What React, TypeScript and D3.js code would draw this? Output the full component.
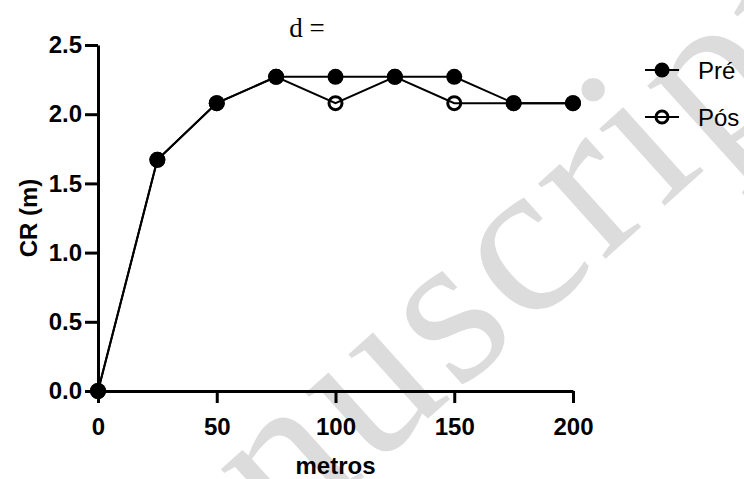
import { useEffect, useRef } from 'react'
import * as d3 from 'd3'

// distance in metres
const metros = [0, 25, 50, 75, 100, 125, 150, 175, 200]
const pre = [0, 1.67, 2.08, 2.27, 2.27, 2.27, 2.27, 2.08, 2.08]
const pos = [0, 1.67, 2.08, 2.27, 2.08, 2.27, 2.08, 2.08, 2.08]
const xTicks = [0, 50, 100, 150, 200]
const yTicks = [0, 0.5, 1.0, 1.5, 2.0, 2.5]
const seriesNames = ['Pré', 'Pós']

export default function App() {
  const svgRef = useRef<SVGSVGElement>(null)

  useEffect(() => {
    if (!svgRef.current) return
    const width = 744
    const height = 479

    const svg = d3.select(svgRef.current)
    svg.selectAll('*').remove()
    svg.attr('width', width).attr('height', height)

    const sans = '"Liberation Sans", Arial, sans-serif'
    const serif = '"Liberation Serif", "Times New Roman", serif'

    // marca d'água
    svg.append('text')
      .attr('transform', 'translate(58,752) rotate(-42)')
      .attr('font-family', serif)
      .attr('font-size', 220)
      .attr('letter-spacing', 6)
      .attr('fill', '#dcdcdc')
      .text('Manuscript')

    const x = d3.scaleLinear().domain([0, 200]).range([98, 573])
    const y = d3.scaleLinear().domain([0, 2.5]).range([391, 45])

    // eixo X
    const gx = svg.append('g')
      .attr('transform', `translate(0,${y(0)})`)
      .call(d3.axisBottom(x).tickValues(xTicks).tickSize(12).tickSizeOuter(0).tickPadding(15).tickFormat(d3.format('d')))
    gx.select('.domain').attr('stroke', '#000').attr('stroke-width', 3)
    gx.selectAll('.tick line').attr('stroke', '#000').attr('stroke-width', 3)
    gx.selectAll('.tick text')
      .attr('fill', '#000')
      .attr('font-family', sans)
      .attr('font-weight', 'bold')
      .attr('font-size', 24)

    // eixo Y
    const gy = svg.append('g')
      .attr('transform', `translate(${x(0)},0)`)
      .call(d3.axisLeft(y).tickValues(yTicks).tickSize(13).tickSizeOuter(0).tickPadding(3).tickFormat(d3.format('.1f')))
    gy.select('.domain').attr('stroke', '#000').attr('stroke-width', 3)
    gy.selectAll('.tick line').attr('stroke', '#000').attr('stroke-width', 3)
    gy.selectAll('.tick text')
      .attr('fill', '#000')
      .attr('font-family', sans)
      .attr('font-weight', 'bold')
      .attr('font-size', 24)

    svg.append('text')
      .attr('x', (x(0) + x(200)) / 2)
      .attr('y', 474)
      .attr('text-anchor', 'middle')
      .attr('font-family', sans)
      .attr('font-weight', 'bold')
      .attr('font-size', 24)
      .text('metros')

    svg.append('text')
      .attr('transform', `translate(37,${(y(0) + y(2.5)) / 2}) rotate(-90)`)
      .attr('text-anchor', 'middle')
      .attr('font-family', sans)
      .attr('font-weight', 'bold')
      .attr('font-size', 24)
      .text('CR (m)')

    svg.append('text')
      .attr('x', 307)
      .attr('y', 37)
      .attr('text-anchor', 'middle')
      .attr('font-family', serif)
      .attr('font-size', 27)
      .text('d =')

    const line = d3.line<[number, number]>()
      .x(d => x(d[0]))
      .y(d => y(d[1]))

    const posData = metros.map((m, i) => [m, pos[i]] as [number, number])
    const preData = metros.map((m, i) => [m, pre[i]] as [number, number])

    svg.append('path').attr('d', line(posData)).attr('fill', 'none').attr('stroke', '#000').attr('stroke-width', 2)
    svg.append('path').attr('d', line(preData)).attr('fill', 'none').attr('stroke', '#000').attr('stroke-width', 2)

    // Pós (círculo aberto)
    svg.selectAll('circle.pos')
      .data(posData)
      .enter()
      .append('circle')
      .attr('class', 'pos')
      .attr('cx', d => x(d[0]))
      .attr('cy', d => y(d[1]))
      .attr('r', 6.5)
      .attr('fill', 'none')
      .attr('stroke', '#000')
      .attr('stroke-width', 3)

    // Pré (círculo cheio)
    svg.selectAll('circle.pre')
      .data(preData)
      .enter()
      .append('circle')
      .attr('class', 'pre')
      .attr('cx', d => x(d[0]))
      .attr('cy', d => y(d[1]))
      .attr('r', 8)
      .attr('fill', '#000')

    // legenda
    seriesNames.forEach((name, i) => {
      const ly = 70 + i * 47
      const lg = svg.append('g')
      lg.append('line').attr('x1', 645).attr('x2', 679).attr('y1', ly).attr('y2', ly)
        .attr('stroke', '#000').attr('stroke-width', 2)
      if (i === 0) {
        lg.append('circle').attr('cx', 662).attr('cy', ly).attr('r', 7.5).attr('fill', '#000')
      } else {
        lg.append('circle').attr('cx', 662).attr('cy', ly).attr('r', 6).attr('fill', 'none')
          .attr('stroke', '#000').attr('stroke-width', 3)
      }
      lg.append('text')
        .attr('x', 698)
        .attr('y', ly + 9)
        .attr('font-family', sans)
        .attr('font-size', 24)
        .text(name)
    })
  }, [])

  return (
    <div style={{ position: 'absolute', left: 0, top: 0, background: '#fff' }}>
      <svg ref={svgRef} style={{ display: 'block' }} />
    </div>
  )
}
